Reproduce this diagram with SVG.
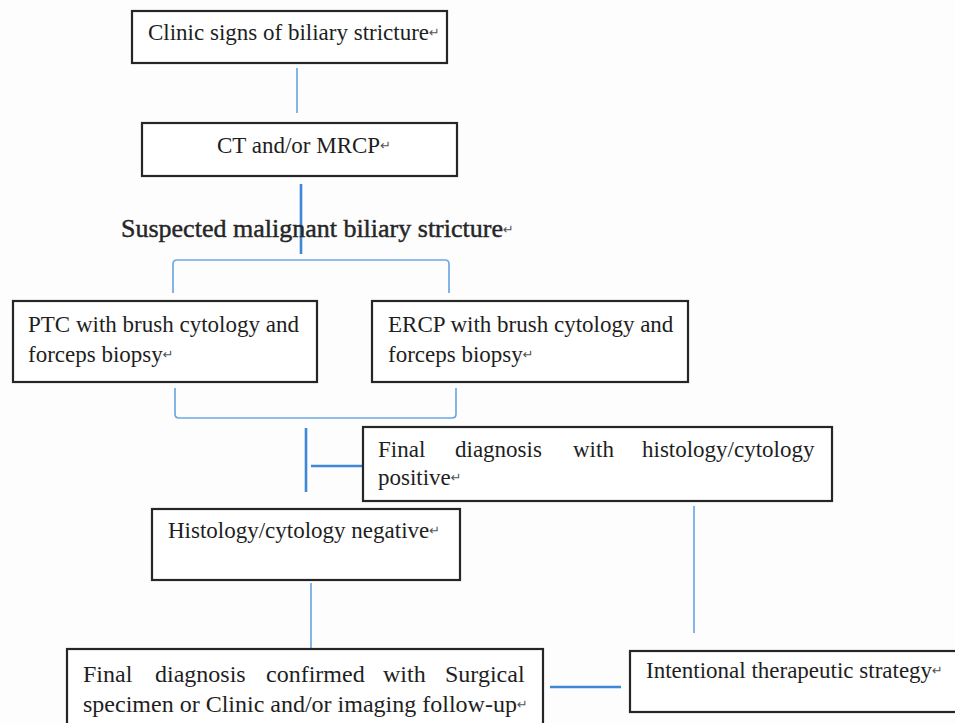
<svg xmlns="http://www.w3.org/2000/svg" width="955" height="723" viewBox="0 0 955 723">
<style>
.box{fill:#fff;stroke:#262626;stroke-width:2.2}
.t{font-family:"Liberation Serif","Times New Roman",serif;font-size:23px;fill:#1e1e1e}
.rt{font-family:"DejaVu Sans",sans-serif;font-size:13px;fill:#555;stroke:none}
.c{fill:none;stroke:#6ea8e2;stroke-width:1.7}
.cs{fill:none;stroke:#3f88d8;stroke-width:2.6}
</style>
<rect width="955" height="723" fill="#fdfdfe"/>
<g id="connectors">
<line class="c" x1="297" y1="68" x2="297" y2="113"/>
<line class="cs" x1="301" y1="184" x2="301" y2="254"/>
<path class="c" d="M173,293 V264 Q173,260 177,260 H445 Q449,260 449,264 V293"/>
<path class="c" d="M175,388 V414 Q175,418 179,418 H452 Q456,418 456,414 V388"/>
<line class="cs" x1="306" y1="428" x2="306" y2="492"/>
<line class="cs" x1="311" y1="466" x2="362" y2="466"/>
<line class="c" x1="311" y1="583" x2="311" y2="648"/>
<line class="c" x1="694" y1="506" x2="694" y2="633"/>
<line class="cs" x1="550" y1="687" x2="621" y2="687"/>
</g>
<g id="clinic-signs">
<rect class="box" x="132" y="11" width="315" height="52"/>
<text class="t" x="148" y="40">Clinic signs of biliary stricture<tspan class="rt" dy="-3">↵</tspan></text>
</g>
<g id="ct-mrcp">
<rect class="box" x="142" y="123" width="315" height="53"/>
<text class="t" x="217" y="153">CT and/or MRCP<tspan class="rt" dy="-3">↵</tspan></text>
</g>
<g id="suspected">
<text class="t" x="121" y="237" style="font-size:26px;fill:#262626;stroke:#262626;stroke-width:0.45">Suspected malignant biliary stricture<tspan class="rt" dy="-3">↵</tspan></text>
</g>
<g id="ptc">
<rect class="box" x="13" y="301" width="304" height="81"/>
<text class="t" x="28" y="332">PTC with brush cytology and</text>
<text class="t" x="28" y="362">forceps biopsy<tspan class="rt" dy="-3">↵</tspan></text>
</g>
<g id="ercp">
<rect class="box" x="372" y="301" width="316" height="81"/>
<text class="t" x="388" y="332">ERCP with brush cytology and</text>
<text class="t" x="388" y="362">forceps biopsy<tspan class="rt" dy="-3">↵</tspan></text>
</g>
<g id="final-positive">
<rect class="box" x="363" y="427" width="469" height="74"/>
<text class="t" y="457"><tspan x="378">Final</tspan><tspan x="455">diagnosis</tspan><tspan x="573">with</tspan><tspan x="642">histology/cytology</tspan></text>
<text class="t" x="378" y="485">positive<tspan class="rt" dy="-3">↵</tspan></text>
</g>
<g id="histology-negative">
<rect class="box" x="152" y="509" width="308" height="71"/>
<text class="t" x="168" y="538">Histology/cytology negative<tspan class="rt" dy="-3">↵</tspan></text>
</g>
<g id="final-confirmed">
<rect class="box" x="67" y="649" width="476" height="90"/>
<text class="t" y="682" style="font-size:24px"><tspan x="83">Final</tspan><tspan x="155">diagnosis</tspan><tspan x="266">confirmed</tspan><tspan x="383">with</tspan><tspan x="445">Surgical</tspan></text>
<text class="t" x="83" y="712" style="font-size:24px">specimen or Clinic and/or imaging follow-up<tspan class="rt" dy="-3">↵</tspan></text>
</g>
<g id="intentional">
<rect class="box" x="630" y="651" width="340" height="61"/>
<text class="t" x="646" y="678">Intentional therapeutic strategy<tspan class="rt" dy="-3">↵</tspan></text>
</g>
</svg>
